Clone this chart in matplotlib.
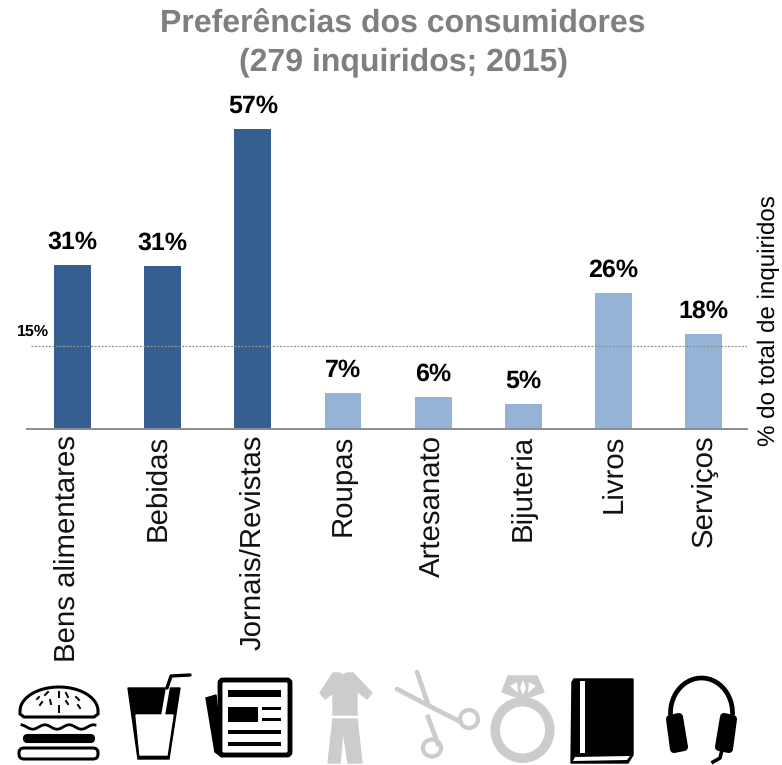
import matplotlib

matplotlib.use("Agg")

import matplotlib.pyplot as plt
import numpy as np
from matplotlib.patches import Ellipse, FancyBboxPatch, Polygon, Rectangle
from matplotlib.transforms import ScaledTranslation

categories = ["Bens alimentares", "Bebidas", "Jornais/Revistas", "Roupas",
              "Artesanato", "Bijuteria", "Livros", "Serviços"]
values = [31.1, 30.9, 57, 6.9, 6.1, 4.7, 25.9, 18]
value_labels = ["31%", "31%", "57%", "7%", "6%", "5%", "26%", "18%"]
bar_colors = ["#355F91"] * 3 + ["#95B3D7"] * 5
reference_level = 15.7
reference_label = "15%"

W, H = 782, 765
DARK = "black"
GREY = "#CCCCCC"

plt.rcParams["font.family"] = ["Liberation Sans", "DejaVu Sans"]
plt.rcParams["text.hinting"] = "no_hinting"

fig = plt.figure(figsize=(W / 100, H / 100), dpi=100, facecolor="white")

# chart axes, placed so the baseline lands at y=429
ax = fig.add_axes([27 / W, 1 - 429 / H, (747 - 27) / W, 316 / H])
x = np.arange(len(categories))
ax.bar(x, values, width=0.41, color=bar_colors, zorder=2)
ax.plot([-0.46, 7.48], [reference_level] * 2, color="#909090", lw=0.9,
        dashes=(1.6, 1.2), zorder=3)
for xi, val, lab in zip(x, values, value_labels):
    ax.annotate(lab, (xi, val), xytext=(0, 11), textcoords="offset pixels",
                ha="center", va="bottom", fontsize=18, fontweight="bold")
ax.set_xlim(-0.504, 7.48)
ax.set_ylim(0, 60)
ax.set_xticks(x)
ax.set_xticklabels(categories, rotation=90, fontsize=21.2, color="#111111")
ax.tick_params(axis="x", length=0, pad=4)
ax.set_yticks([])
for side in ["top", "left", "right"]:
    ax.spines[side].set_visible(False)
ax.spines["bottom"].set_color("#8C8C8C")
ax.spines["bottom"].set_linewidth(1.4)
ax.patch.set_visible(False)

# the first two labels sit a little left of their bars in the original
shift = ScaledTranslation(-5 / 100, 0, fig.dpi_scale_trans)
for tick_label in ax.get_xticklabels()[:2]:
    tick_label.set_transform(tick_label.get_transform() + shift)

fig.text(403 / W, 1 - 43 / H, "Preferências dos consumidores\n(279 inquiridos; 2015)",
         ha="center", va="center", fontsize=23, fontweight="bold",
         color="#7F7F7F", linespacing=1.35)
fig.text(33 / W, 1 - 332 / H, reference_label, ha="center", va="center",
         fontsize=11.5, fontweight="bold")
fig.text(769 / W, 1 - 321 / H, "% do total de inquiridos", rotation=90,
         ha="center", va="center", fontsize=17.4)

# pictograms under the chart, drawn in pixel coordinates
ic = fig.add_axes([0, 0, 1, 1], zorder=5)
ic.set_xlim(0, W)
ic.set_ylim(H, 0)
ic.axis("off")


def burger(a):
    top = np.linspace(np.pi, 0, 40)
    bun = [(59 + 39 * np.cos(t), 711 - 24 * np.sin(t)) for t in top]
    bun += [(98, 714), (94, 717), (24, 717), (20, 714)]
    a.add_patch(Polygon(bun, closed=True, fc="white", ec=DARK, lw=2.2))
    for px, py, dx, dy in [(45, 695, 3, -3), (59, 692, 0, 5), (66, 693, 2, 4),
                           (76, 697, 3, 3), (40, 705, 2, -3), (50, 700, 1, 4),
                           (66, 701, 2, 3), (78, 705, 2, 3), (59, 706, 0, 6),
                           (37, 699, 2, -2)]:
        a.plot([px, px + dx], [py, py + dy], color=DARK, lw=1.4)
    wx = np.linspace(22, 95, 60)
    wy = 727 + 2.2 * np.sin((wx - 22) / 73 * 3 * 2 * np.pi - 1.2)
    a.plot(wx, wy, color=DARK, lw=2)
    a.add_patch(FancyBboxPatch((24, 735), 70, 7, boxstyle="round,pad=0,rounding_size=3.5",
                               fc=DARK, ec=DARK, lw=1.5))
    a.add_patch(FancyBboxPatch((19, 748), 79, 11, boxstyle="round,pad=0,rounding_size=5",
                               fc="white", ec=DARK, lw=2.2))


def drink(a):
    a.add_patch(Polygon([(128, 688), (180, 688), (169, 759), (138, 759)], fc=DARK, ec=DARK))
    a.add_patch(Polygon([(136, 715), (173, 715), (167, 755), (140, 755)], fc="white", ec="white"))
    a.plot([163, 168], [716, 687], color="white", lw=2.8)
    a.plot([167, 171, 190], [688, 676, 675], color=DARK, lw=2.4,
           solid_joinstyle="round", solid_capstyle="round")


def newspaper(a):
    a.add_patch(Polygon([(206, 698), (216, 695), (222, 757), (215, 752)], fc=DARK, ec=DARK))
    a.add_patch(FancyBboxPatch((220, 680), 70, 75, boxstyle="round,pad=0,rounding_size=3",
                               fc="white", ec=DARK, lw=3.5))
    for rx, ry, rw, rh in [(228, 690, 53, 7), (228, 707, 30, 15), (262, 707, 19, 3),
                           (262, 718, 19, 3), (228, 730, 53, 4), (228, 742, 53, 4)]:
        a.add_patch(Rectangle((rx, ry), rw, rh, fc=DARK, ec="none"))


def clothes(a):
    a.add_patch(Polygon([(333, 673), (339, 673), (343, 675), (347, 673), (353, 673),
                         (372, 693), (367, 699), (357, 691), (357, 715), (333, 715),
                         (333, 693), (325, 699), (320, 693)], fc=GREY, ec=GREY))
    a.add_patch(Polygon([(333, 719), (357, 719), (362, 763), (348, 763), (343, 730),
                         (340, 763), (328, 763)], fc=GREY, ec=GREY))


def scissors(a):
    a.plot([397, 437, 461], [689, 710, 722], color=GREY, lw=3.4, solid_capstyle="round")
    a.plot([417, 428], [672, 704], color=GREY, lw=3.4, solid_capstyle="round")
    a.plot([428, 438], [717, 744], color=GREY, lw=3.4)
    a.add_patch(Ellipse((469, 719), 18, 18, fc="none", ec=GREY, lw=3))
    a.add_patch(Ellipse((432, 748), 18, 17, fc="none", ec=GREY, lw=3))


def ring(a):
    a.add_patch(Ellipse((522.5, 730), 54.5, 56.5, fc="none", ec=GREY, lw=6.8))
    a.add_patch(Polygon([(508, 676), (537, 676), (544, 692), (530, 697), (516, 697),
                         (502, 692)], fc=GREY, ec=GREY))
    a.add_patch(Polygon([(523, 680), (526, 688), (523, 695), (520, 688)], fc="white", ec="none"))
    a.add_patch(Polygon([(510, 686), (517, 682), (518, 693)], fc="white", ec="none"))
    a.add_patch(Polygon([(536, 686), (529, 682), (528, 693)], fc="white", ec="none"))


def book(a):
    a.add_patch(Polygon([(574, 679), (633, 679), (633, 755), (628, 763), (571, 763), (572, 682)],
                        fc=DARK, ec=DARK))
    a.add_patch(Rectangle((580, 681), 5, 72, fc="white", ec="none"))
    a.add_patch(Polygon([(575, 757), (630, 756), (627, 760), (573, 761)], fc="white", ec="none"))


def headset(a):
    t = np.linspace(np.pi, 0, 40)
    a.plot(701.5 + 31 * np.cos(t), 713 - 35 * np.sin(t), color=DARK, lw=3.4)
    for pts in [[(670, 719), (679, 717), (684, 747), (674, 749)],
                [(733, 719), (724, 717), (719, 747), (729, 749)]]:
        a.add_patch(Polygon(pts, fc=DARK, ec=DARK, lw=5.8, joinstyle="round"))
    a.plot([722, 720, 713], [750, 758, 762], color=DARK, lw=2.6)


for draw in [burger, drink, newspaper, clothes, scissors, ring, book, headset]:
    draw(ic)

fig.savefig("out.png", dpi=100)
plt.close(fig)
